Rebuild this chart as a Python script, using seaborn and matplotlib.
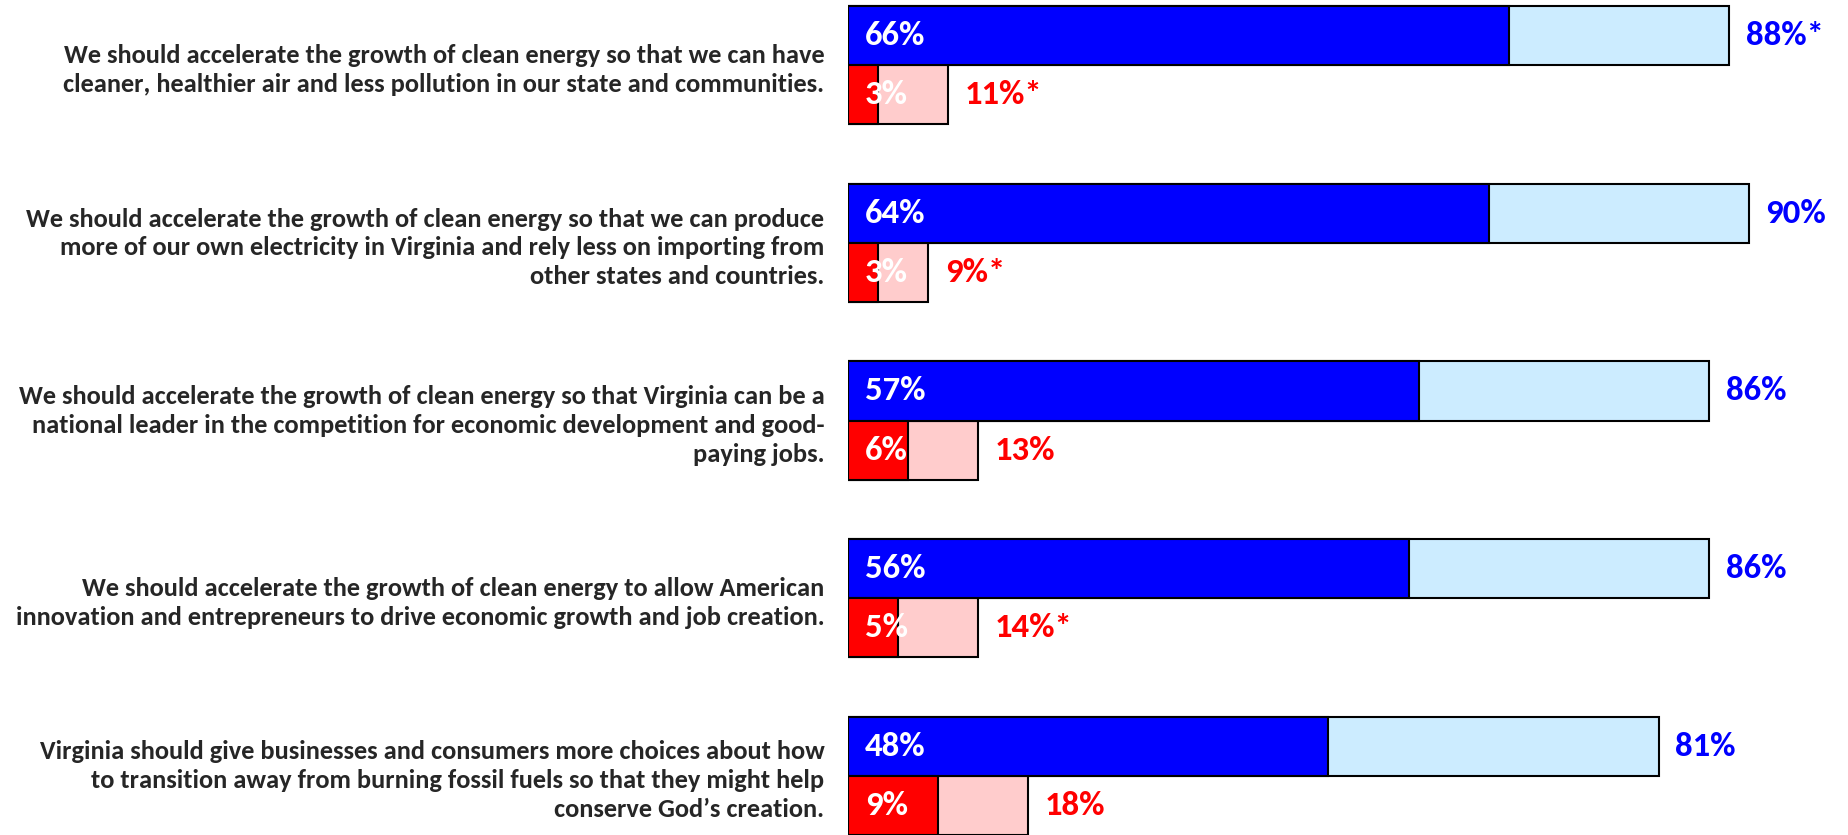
import matplotlib
matplotlib.use("Agg")
import matplotlib.pyplot as plt
from matplotlib import font_manager
import seaborn as sns
import pandas as pd

# statements (one per group, top to bottom)
statements = [
    "We should accelerate the growth of clean energy so that we can have\n"
    "cleaner, healthier air and less pollution in our state and communities.",
    "We should accelerate the growth of clean energy so that we can produce\n"
    "more of our own electricity in Virginia and rely less on importing from\n"
    "other states and countries.",
    "We should accelerate the growth of clean energy so that Virginia can be a\n"
    "national leader in the competition for economic development and good-\n"
    "paying jobs.",
    "We should accelerate the growth of clean energy to allow American\n"
    "innovation and entrepreneurs to drive economic growth and job creation.",
    "Virginia should give businesses and consumers more choices about how\n"
    "to transition away from burning fossil fuels so that they might help\n"
    "conserve God\u2019s creation.",
]

# strong values (dark bars) and total values (light bars) as drawn
support_strong = [66, 64, 57, 56, 48]
support_total = [88, 90, 86, 86, 81]
oppose_strong = [3, 3, 6, 5, 9]
oppose_total = [10, 8, 13, 13, 18]

# printed labels
support_strong_lbl = ["66%", "64%", "57%", "56%", "48%"]
support_total_lbl = ["88%*", "90%", "86%", "86%", "81%"]
oppose_strong_lbl = ["3%", "3%", "6%", "5%", "9%"]
oppose_total_lbl = ["11%*", "9%*", "13%", "14%*", "18%"]

sides = ["support", "oppose"]

sns.set_style("white")
names = {f.name for f in font_manager.fontManager.ttflist}
fam = [f for f in ["Carlito", "Liberation Sans Narrow", "Open Sans", "DejaVu Sans"] if f in names]
plt.rcParams["font.family"] = fam

df = pd.DataFrame({
    "statement": statements * 2,
    "side": ["support"] * 5 + ["oppose"] * 5,
    "strong": support_strong + oppose_strong,
    "total": support_total + oppose_total,
})

fig = plt.figure(figsize=(18.49, 8.35), dpi=100)
ax = fig.add_axes([848 / 1849, 0, 1001 / 1849, 1])

light = {"support": "#CCECFF", "oppose": "#FFCCCC"}
dark = {"support": "#0000FF", "oppose": "#FF0000"}

sns.barplot(data=df, y="statement", x="total", hue="side", hue_order=sides,
            palette=light, saturation=1, orient="h", width=0.667, dodge=True,
            edgecolor="black", linewidth=1.5, legend=False, ax=ax)
n_light = len(ax.containers)
sns.barplot(data=df, y="statement", x="strong", hue="side", hue_order=sides,
            palette=dark, saturation=1, orient="h", width=0.667, dodge=True,
            edgecolor="black", linewidth=1.5, legend=False, ax=ax)

light_conts = ax.containers[:n_light]
dark_conts = ax.containers[n_light:]

# outer labels
ax.bar_label(light_conts[0], labels=support_total_lbl, padding=12,
             color="#0000FF", fontsize=25, fontweight="bold")
ax.bar_label(light_conts[1], labels=oppose_total_lbl, padding=12,
             color="#FF0000", fontsize=25, fontweight="bold")

# inner labels, white, at the left of the dark bar
for cont, lbls in zip(dark_conts, [support_strong_lbl, oppose_strong_lbl]):
    for p, t in zip(cont.patches, lbls):
        ax.annotate(t, (0, p.get_y() + p.get_height() / 2),
                    xytext=(12, 0), textcoords="offset points",
                    ha="left", va="center", color="white",
                    fontsize=25, fontweight="bold")

ax.set_xlim(0, 100)
ax.set_ylim(4.333, -0.367)
ax.set_xlabel("")
ax.set_ylabel("")
ax.set_xticks([])
ax.tick_params(axis="y", length=0, pad=17, labelsize=19)
for lab in ax.get_yticklabels():
    lab.set_fontweight("bold")
    lab.set_linespacing(1.3)
sns.despine(ax=ax, left=True, bottom=True)

fig.savefig("out.png", dpi=100)
